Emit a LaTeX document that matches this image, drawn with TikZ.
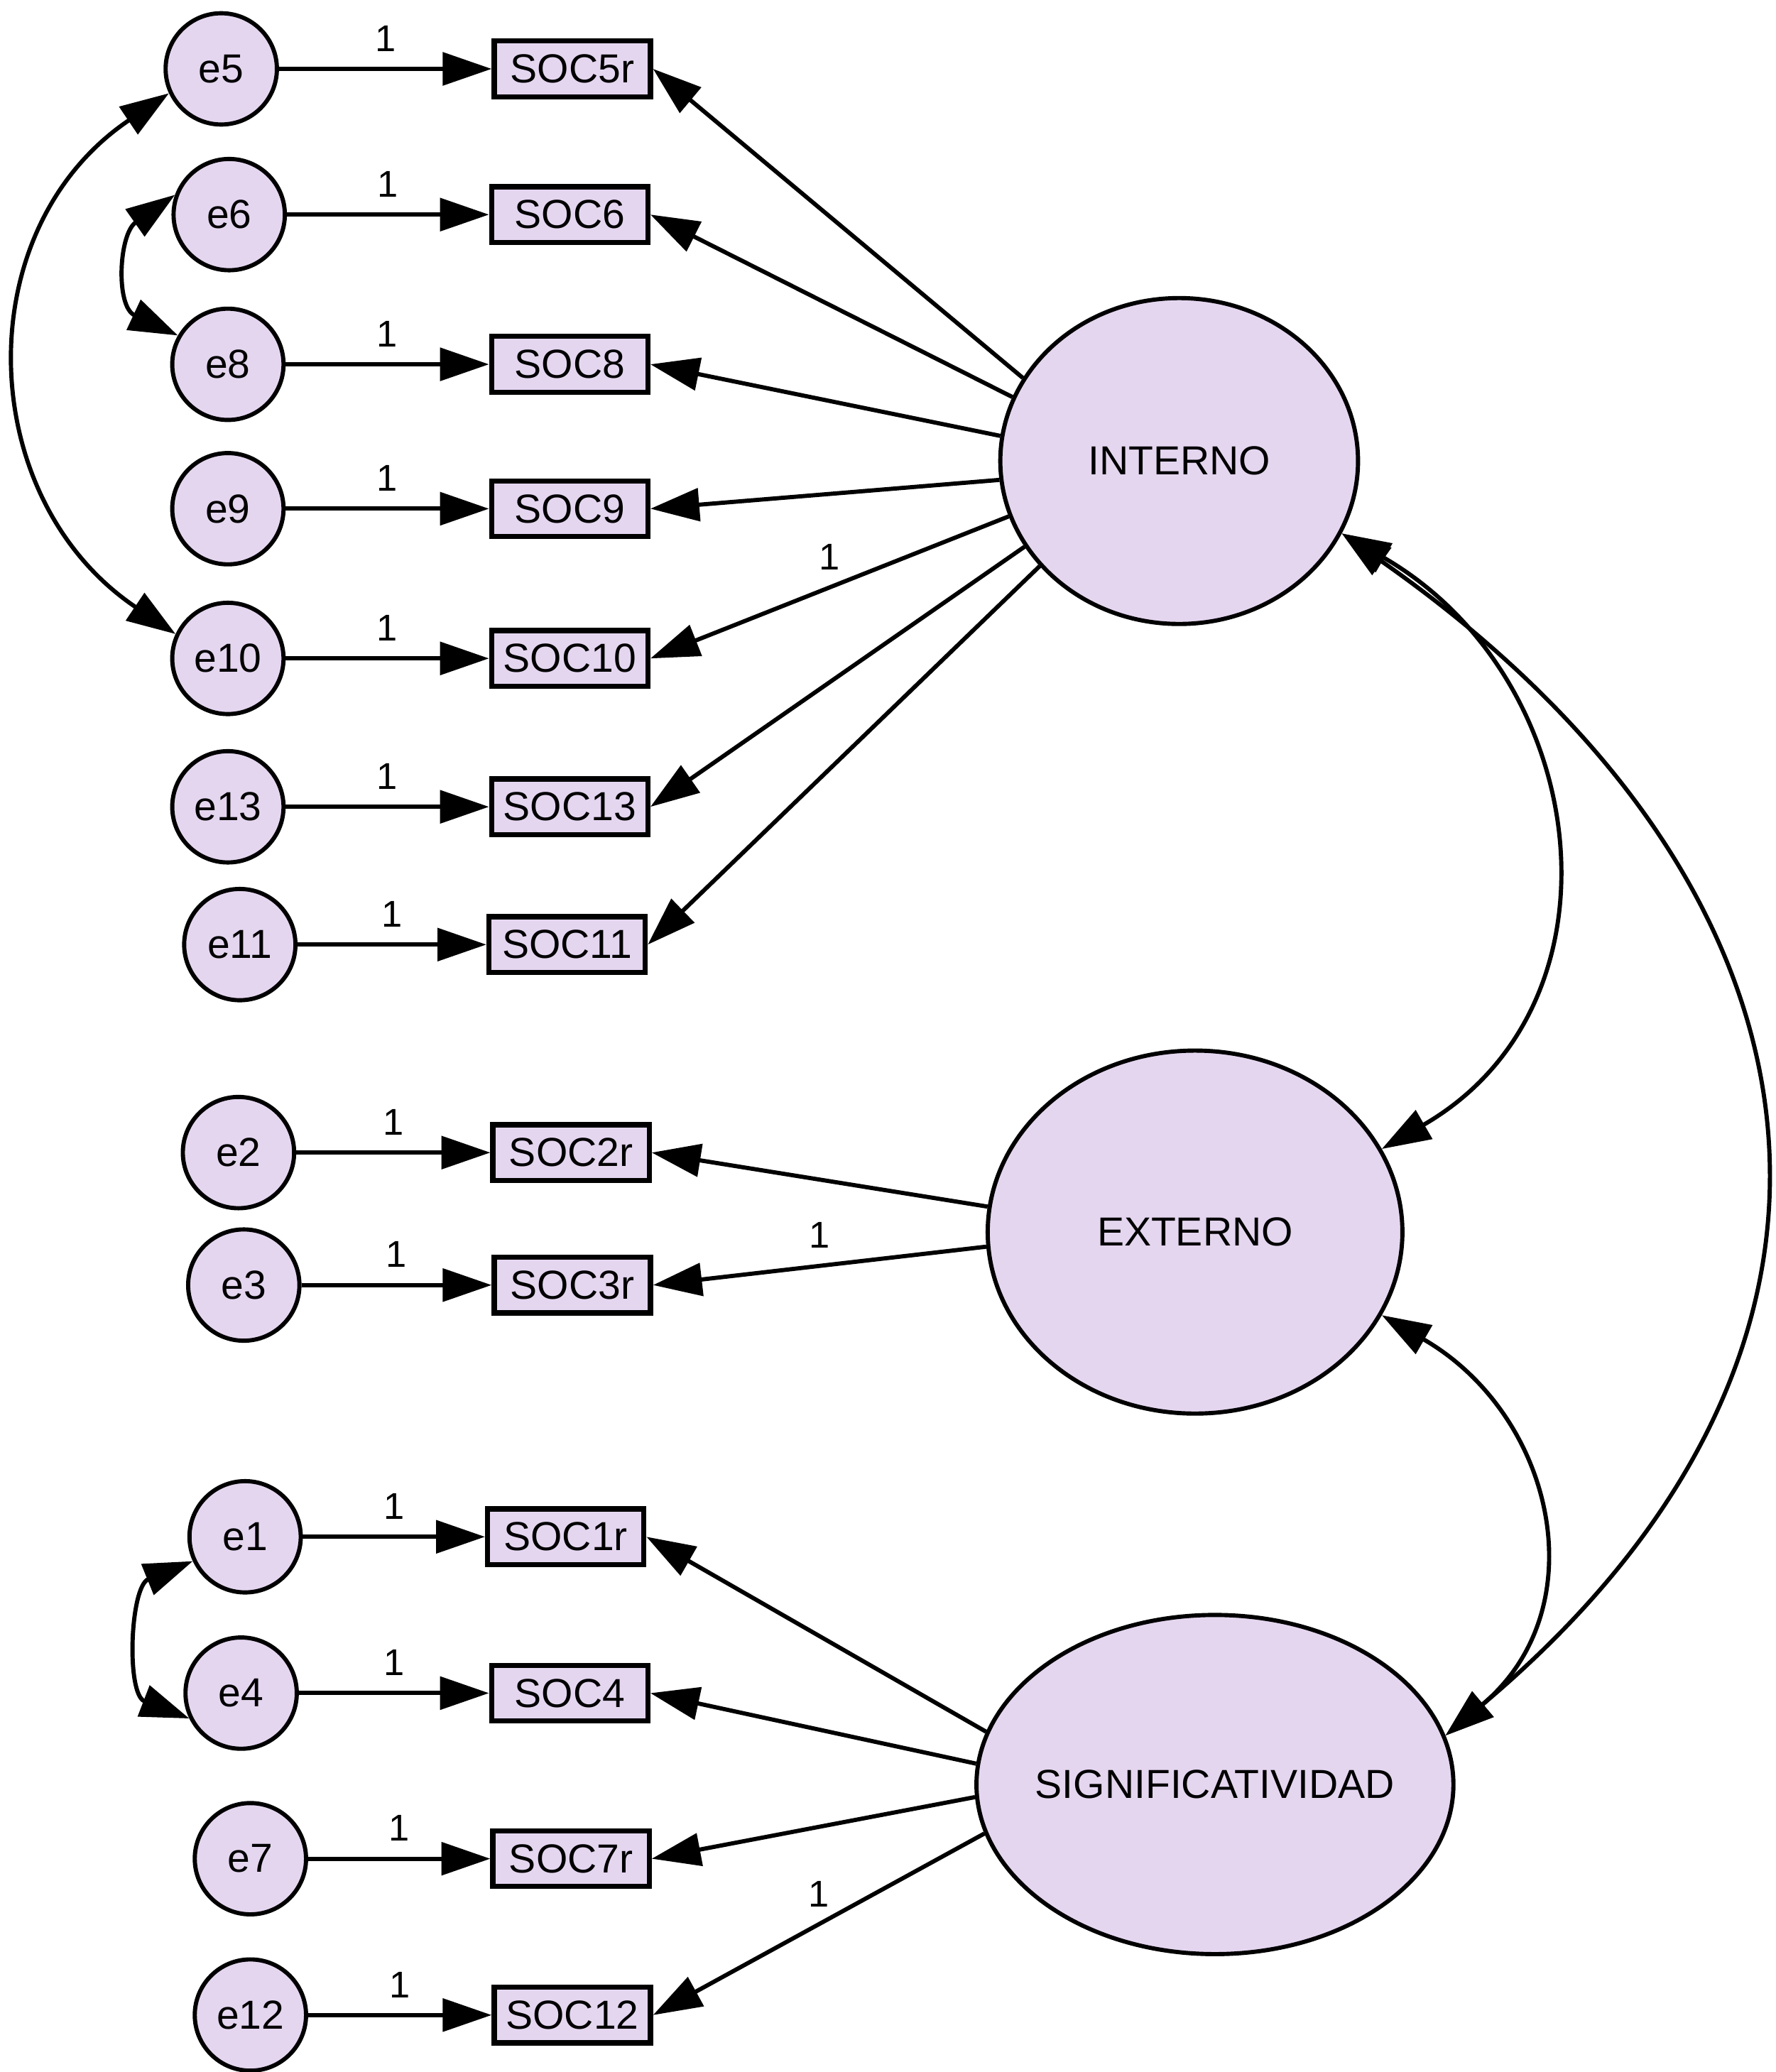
\documentclass[tikz,border=0pt]{standalone}
\usepackage{fontspec}
\setmainfont{Liberation Sans}
\usetikzlibrary{arrows.meta,shapes.geometric}
\definecolor{lav}{RGB}{229,214,240}

\begin{document}
\begin{tikzpicture}[x=0.1mm,y=0.1mm,
    err/.style={circle,draw,fill=lav,minimum size=8.4mm,inner sep=0pt,line width=0.9pt,font=\fontsize{8.7}{10}\selectfont},
    obs/.style={rectangle,draw,fill=lav,minimum width=11.8mm,minimum height=4.2mm,inner sep=0pt,line width=1.1pt,font=\fontsize{8.7}{10}\selectfont},
    lat/.style={ellipse,draw,fill=lav,inner sep=0pt,line width=0.9pt,font=\fontsize{8.7}{10}\selectfont},
    reg/.style={-{Triangle[length=10.5pt,width=7pt]},line width=0.9pt},
    cov/.style={{Triangle[length=10.5pt,width=7pt]}-{Triangle[length=10.5pt,width=7pt]},line width=0.9pt},
    one/.style={above,font=\fontsize{8}{9}\selectfont}]
    \useasboundingbox (0,0) rectangle (1340,-1564);
    \node[lat,minimum width=27mm,minimum height=24.6mm] (INTERNO) at (890,-348) {INTERNO};
    \node[lat,minimum width=31.3mm,minimum height=27.4mm] (EXTERNO) at (902,-930) {EXTERNO};
    \node[lat,minimum width=36mm,minimum height=25.6mm] (SIG) at (917,-1347) {\makebox[0pt]{SIGNIFICATIVIDAD}};
    \node[err] (e5) at (167,-52) {e5};    \node[obs] (SOC5r) at (432,-52) {SOC5r};
    \node[err] (e6) at (173,-162) {e6};   \node[obs] (SOC6) at (430,-162) {SOC6};
    \node[err] (e8) at (172,-275) {e8};   \node[obs] (SOC8) at (430,-275) {SOC8};
    \node[err] (e9) at (172,-384) {e9};   \node[obs] (SOC9) at (430,-384) {SOC9};
    \node[err] (e10) at (172,-497) {e10}; \node[obs] (SOC10) at (430,-497) {SOC10};
    \node[err] (e13) at (172,-609) {e13}; \node[obs] (SOC13) at (430,-609) {SOC13};
    \node[err] (e11) at (181,-713) {e11}; \node[obs] (SOC11) at (428,-713) {SOC11};
    \node[err] (e2) at (180,-870) {e2};   \node[obs] (SOC2r) at (431,-870) {SOC2r};
    \node[err] (e3) at (184,-970) {e3};   \node[obs] (SOC3r) at (432,-970) {SOC3r};
    \node[err] (e1) at (185,-1160) {e1};  \node[obs] (SOC1r) at (427,-1160) {SOC1r};
    \node[err] (e4) at (182,-1278) {e4};  \node[obs] (SOC4) at (430,-1278) {SOC4};
    \node[err] (e7) at (189,-1403) {e7};  \node[obs] (SOC7r) at (431,-1403) {SOC7r};
    \node[err] (e12) at (189,-1521) {e12};\node[obs] (SOC12) at (432,-1521) {SOC12};
    \draw[reg] (e5) -- node[one]{1} (SOC5r);
    \draw[reg] (e6) -- node[one]{1} (SOC6);
    \draw[reg] (e8) -- node[one]{1} (SOC8);
    \draw[reg] (e9) -- node[one]{1} (SOC9);
    \draw[reg] (e10) -- node[one]{1} (SOC10);
    \draw[reg] (e13) -- node[one]{1} (SOC13);
    \draw[reg] (e11) -- node[one]{1} (SOC11);
    \draw[reg] (e2) -- node[one]{1} (SOC2r);
    \draw[reg] (e3) -- node[one]{1} (SOC3r);
    \draw[reg] (e1) -- node[one]{1} (SOC1r);
    \draw[reg] (e4) -- node[one]{1} (SOC4);
    \draw[reg] (e7) -- node[one]{1} (SOC7r);
    \draw[reg] (e12) -- node[one]{1} (SOC12);
    \draw[reg] (INTERNO.152) -- (SOC5r.east);
    \draw[reg] (INTERNO.159) -- (SOC6.east);
    \draw[reg] (INTERNO.172) -- (SOC8.east);
    \draw[reg] (INTERNO.186) -- (SOC9.east);
    \draw[reg] (INTERNO.198) -- node[one]{1} (SOC10.east);
    \draw[reg] (INTERNO.209) -- (SOC13.east);
    \draw[reg] (INTERNO.217) -- (SOC11.east);
    \draw[reg] (EXTERNO.173) -- (SOC2r.east);
    \draw[reg] (EXTERNO.184) -- node[one]{1} (SOC3r.east);
    \draw[reg] (SIG.167) -- (SOC1r.east);
    \draw[reg] (SIG.175) -- (SOC4.east);
    \draw[reg] (SIG.183) -- (SOC7r.east);
    \draw[reg] (SIG.192) -- node[one]{1} (SOC12.east);
    \draw[cov] (e5.205) to[out=214,in=146,looseness=1.15] (e10.155);
    \draw[cov] (e6.160) to[out=215,in=155,looseness=1.25] (e8.150);
    \draw[cov] (e1.205) to[out=202,in=159,looseness=1.1] (e4.206);
    \draw[cov] (INTERNO.-24) to[out=-30,in=30,looseness=1.2] (EXTERNO.24);
    \draw[cov] (INTERNO.-24) to[out=-35,in=40,looseness=1.3] (SIG.12);
    \draw[cov] (EXTERNO.-24) to[out=-30,in=40,looseness=1.2] (SIG.12);
\end{tikzpicture}
\end{document}
